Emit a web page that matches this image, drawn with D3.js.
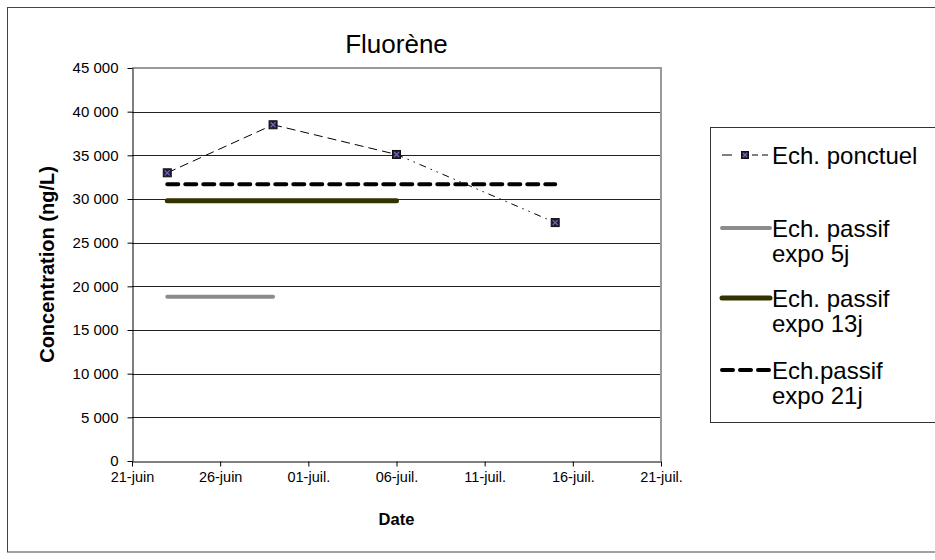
<!DOCTYPE html>
<html>
<head>
<meta charset="utf-8">
<script src="https://cdn.jsdelivr.net/npm/d3@7"></script>
<style>
  html, body { margin: 0; padding: 0; background: #fff; }
  svg { display: block; font-family: "Liberation Sans", Arial, sans-serif; }
</style>
</head>
<body>
<svg id="chart" width="935" height="560"></svg>
<script>
// ---- Data ----
const title = "Fluorène";
const yAxisTitle = "Concentration (ng/L)";
const xAxisTitle = "Date";

const ponctuelName = "Ech. ponctuel";
const ponctuelDates = ["2009-06-23", "2009-06-29", "2009-07-06", "2009-07-15"];
const ponctuelValues = [33000, 38500, 35100, 27300];

const passifNames = [["Ech. passif", "expo 5j"], ["Ech. passif", "expo 13j"], ["Ech.passif", "expo 21j"]];
const passifStart = ["2009-06-23", "2009-06-23", "2009-06-23"];
const passifEnd = ["2009-06-29", "2009-07-06", "2009-07-15"];
const passifValues = [18800, 29800, 31700];

const yTickValues = [0, 5000, 10000, 15000, 20000, 25000, 30000, 35000, 40000, 45000];
const yTickLabels = ["0", "5 000", "10 000", "15 000", "20 000", "25 000", "30 000", "35 000", "40 000", "45 000"];
const xTickDates = ["2009-06-21", "2009-06-26", "2009-07-01", "2009-07-06", "2009-07-11", "2009-07-16", "2009-07-21"];
const xTickLabels = ["21-juin", "26-juin", "01-juil.", "06-juil.", "11-juil.", "16-juil.", "21-juil."];

// ---- Layout / styles ----
const plot = { left: 132, right: 661, top: 68, bottom: 461 };
const passifStyles = [
  { color: "#8c8c8c", width: 4, dash: null },
  { color: "#333300", width: 5, dash: null },
  { color: "#000000", width: 4, dash: "11,7" }
];
const FONT = "Liberation Sans, Arial, sans-serif";

const parse = d3.utcParse("%Y-%m-%d");
const svg = d3.select("#chart");

const x = d3.scaleUtc()
  .domain([parse(xTickDates[0]), parse(xTickDates[xTickDates.length - 1])])
  .range([plot.left, plot.right]);
const y = d3.scaleLinear().domain([0, 45000]).range([plot.bottom, plot.top]);

// outer border
svg.append("rect").attr("x", 7.5).attr("y", 7.5).attr("width", 940).attr("height", 544.5)
  .attr("fill", "none").attr("stroke", "#444").attr("stroke-width", 1);

// gridlines
svg.append("g").selectAll("line")
  .data(yTickValues.filter(v => v > 0 && v < 45000))
  .join("line")
  .attr("x1", plot.left).attr("x2", plot.right)
  .attr("y1", d => Math.round(y(d)) + 0.5).attr("y2", d => Math.round(y(d)) + 0.5)
  .attr("stroke", "#222").attr("stroke-width", 1);

// plot border top/right (gray)
svg.append("path")
  .attr("d", `M${plot.left},${plot.top} H${plot.right} V${plot.bottom}`)
  .attr("fill", "none").attr("stroke", "#999").attr("stroke-width", 2);

// Y axis
const yAxis = d3.axisLeft(y)
  .tickValues(yTickValues)
  .tickFormat((d, i) => yTickLabels[i])
  .tickSize(5).tickSizeOuter(0).tickPadding(9);
const gy = svg.append("g").attr("transform", `translate(${plot.left + 0.5},0)`).call(yAxis);
gy.selectAll("text").attr("font-size", 15).attr("fill", "#000").attr("font-family", FONT);
gy.selectAll("line, path").attr("stroke", "#000");

// X axis
const xAxis = d3.axisBottom(x)
  .tickValues(xTickDates.map(parse))
  .tickFormat((d, i) => xTickLabels[i])
  .tickSize(5).tickSizeOuter(0).tickPadding(5);
const gx = svg.append("g").attr("transform", `translate(0,${plot.bottom + 0.5})`).call(xAxis);
gx.selectAll("text").attr("font-size", 14.5).attr("fill", "#000").attr("font-family", FONT);
gx.selectAll("line, path").attr("stroke", "#000");

// passive lines
passifValues.forEach((v, i) => {
  const st = passifStyles[i];
  svg.append("line")
    .attr("x1", x(parse(passifStart[i]))).attr("x2", x(parse(passifEnd[i])))
    .attr("y1", y(v)).attr("y2", y(v))
    .attr("stroke", st.color).attr("stroke-width", st.width)
    .attr("stroke-linecap", "round")
    .attr("stroke-dasharray", st.dash);
});

// ponctuel line (segments with Excel-like dash styles)
const pts = ponctuelDates.map((d, i) => [x(parse(d)), y(ponctuelValues[i])]);
const segDash = ["9,5", "9,5", "7,5,1.5,5,1.5,5"];
for (let i = 0; i < pts.length - 1; i++) {
  svg.append("path")
    .attr("d", d3.line()([pts[i], pts[i + 1]]))
    .attr("fill", "none").attr("stroke", "#000").attr("stroke-width", 1)
    .attr("stroke-dasharray", segDash[i]);
}

function marker(g, cx, cy, s) {
  g.append("rect").attr("x", cx - s / 2).attr("y", cy - s / 2).attr("width", s).attr("height", s)
    .attr("fill", "#241a40").attr("stroke", "#111").attr("stroke-width", 1);
  g.append("path")
    .attr("d", `M${cx - s / 2 + 1.5},${cy - s / 2 + 1.5}L${cx + s / 2 - 1.5},${cy + s / 2 - 1.5}M${cx + s / 2 - 1.5},${cy - s / 2 + 1.5}L${cx - s / 2 + 1.5},${cy + s / 2 - 1.5}`)
    .attr("stroke", "#7a68b0").attr("stroke-width", 1.2);
}
const gm = svg.append("g");
pts.forEach(p => marker(gm, p[0], p[1], 8));

// titles
svg.append("text").attr("x", (plot.left + plot.right) / 2).attr("y", 53)
  .attr("text-anchor", "middle").attr("font-size", 26).text(title);
svg.append("text").attr("transform", `translate(54,${(plot.top + plot.bottom) / 2}) rotate(-90)`)
  .attr("text-anchor", "middle").attr("font-size", 20).attr("font-weight", "bold").text(yAxisTitle);
svg.append("text").attr("x", (plot.left + plot.right) / 2).attr("y", 525)
  .attr("text-anchor", "middle").attr("font-size", 16.5).attr("font-weight", "bold").text(xAxisTitle);

// legend
const lg = svg.append("g");
lg.append("rect").attr("x", 710.5).attr("y", 127.5).attr("width", 240).attr("height", 295)
  .attr("fill", "#fff").attr("stroke", "#333").attr("stroke-width", 1);
const sx1 = 722, sx2 = 770, tx = 772, LFS = 24;
// ponctuel
const ly0 = 155;
lg.append("line").attr("x1", sx1).attr("x2", sx1 + 10).attr("y1", ly0).attr("y2", ly0)
  .attr("stroke", "#000").attr("stroke-width", 1);
lg.append("line").attr("x1", sx1 + 30).attr("x2", sx2).attr("y1", ly0).attr("y2", ly0)
  .attr("stroke", "#000").attr("stroke-width", 1).attr("stroke-dasharray", "6,4");
marker(lg, 745, ly0, 7);
lg.append("text").attr("x", tx).attr("y", ly0).attr("dy", "0.36em").attr("font-size", LFS).text(ponctuelName);
const lys = [228, 298, 370];
passifNames.forEach((nm, i) => {
  const st = passifStyles[i];
  lg.append("line").attr("x1", sx1).attr("x2", sx2).attr("y1", lys[i]).attr("y2", lys[i])
    .attr("stroke", st.color).attr("stroke-width", st.width).attr("stroke-linecap", "round")
    .attr("stroke-dasharray", st.dash);
  const t = lg.append("text").attr("x", tx).attr("y", lys[i]).attr("dy", "0.36em").attr("font-size", LFS);
  t.append("tspan").attr("x", tx).text(nm[0]);
  t.append("tspan").attr("x", tx).attr("dy", 25.5).text(nm[1]);
});
</script>
</body>
</html>
